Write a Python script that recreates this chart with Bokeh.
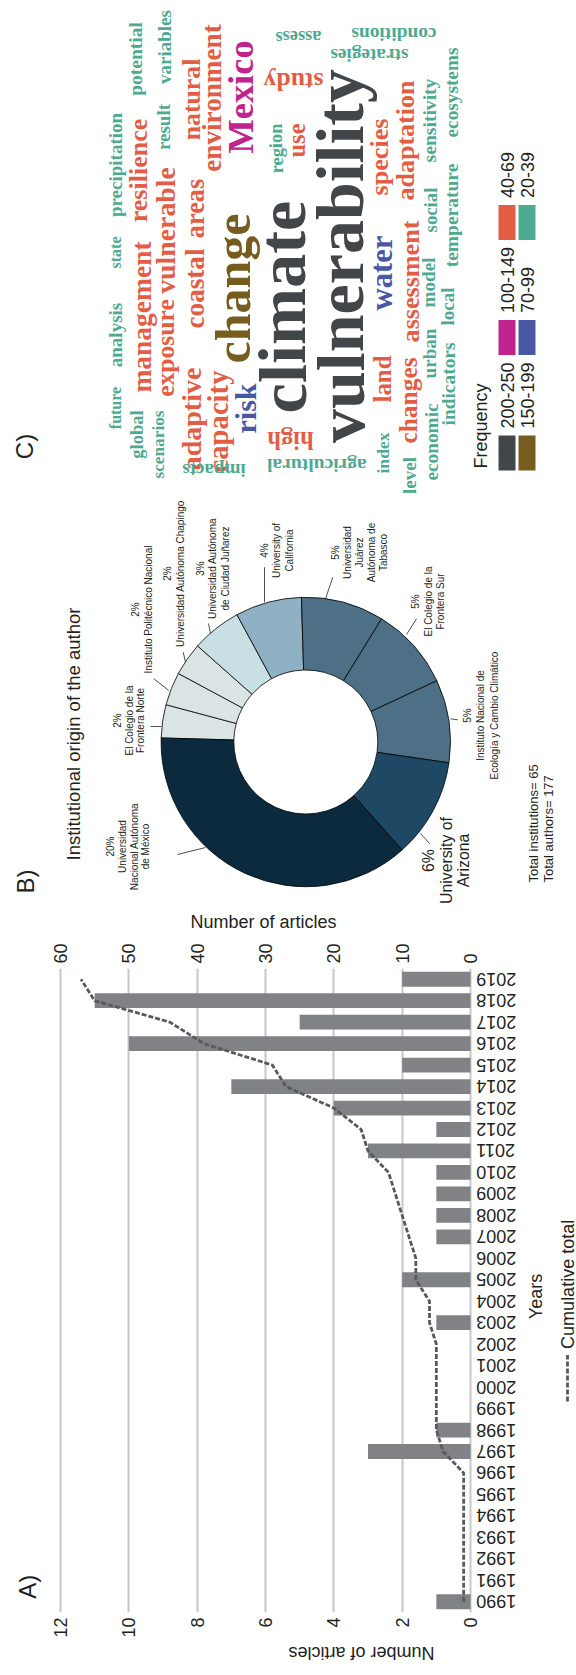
import math
import numpy as np
from bokeh.plotting import figure
from bokeh.models import ColumnDataSource, Range1d, LinearAxis, FixedTicker
from bokeh.layouts import column
from bokeh.core.properties import value
from bokeh.embed import file_html
from bokeh.resources import INLINE

W = 576
TOP_H = 905          # word cloud + donut panel
BAR_H = 770          # bar chart panel
SANS = "Liberation Sans"
SERIF = "Liberation Serif"
INK = "#231f20"
NBSP = "\u00a0"

# ---------------- A) articles per year ----------------
years = list(range(1990, 2020))
articles = [1, 0, 0, 0, 0, 0, 0, 3, 1, 0, 0, 0, 0, 1, 0, 2, 0, 1, 1, 1, 1, 3, 1, 4, 7, 2, 10, 5, 11, 2]
cumulative = np.cumsum(articles).tolist()
count_ticks = [0, 2, 4, 6, 8, 10, 12]
cumulative_ticks = [0, 10, 20, 30, 40, 50, 60]

# ---------------- B) institutional origin ----------------
inst_pct = [2, 2, 2, 3, 4, 5, 5, 5, 6, 20]
inst_names = [
    ["El Colegio de la", "Frontera Norte"],
    ["Instituto Politécnico Nacional"],
    ["Universidad Autónoma Chapingo"],
    ["Universidad Autónoma", "de Ciudad Juñarez"],
    ["University of", "California"],
    ["Universidad", "Juárez", "Autónoma de", "Tabasco"],
    ["El Colegio de la", "Frontera Sur"],
    ["Instituto Nacional de", "Ecología y Cambio Climático"],
    ["University of", "Arizona"],
    ["Universidad", "Nacional Autónoma", "de México"],
]
inst_colors = ["#dbe4e5", "#dbe4e5", "#dbe4e5", "#c8dfe3", "#8fb1c3",
               "#4d7087", "#4d7087", "#4d7087", "#1e4863", "#0b2a3e"]
total_institutions = 65
total_authors = 177

# ---------------- C) word cloud ----------------
freq_bins = ["200-250", "150-199", "100-149", "70-99", "40-69", "20-39"]
bin_colors = ["#424649", "#775c1f", "#c0248c", "#4858a5", "#e35d45", "#4ea991"]
words = ["future", "analysis", "state", "precipitation", "global", "management", "resilience",
         "potential", "scenarios", "exposure", "vulnerable", "result", "variables", "adaptive",
         "coastal", "areas", "natural", "capacity", "change", "environment", "risk", "Mexico",
         "region", "climate", "vulnerability", "species", "adaptation", "sensitivity", "ecosystems",
         "water", "land", "assessment", "changes", "model", "social", "urban", "economic", "local",
         "temperature", "indicators", "index", "level", "use", "impacts", "high", "agricultural",
         "study", "assess", "strategies", "conditions"]
word_bin = [5, 5, 5, 5, 5, 4, 4,
            5, 5, 4, 4, 5, 5, 4,
            4, 4, 4, 4, 1, 4, 3, 2,
            5, 0, 0, 4, 4, 5, 5,
            3, 4, 4, 4, 5, 5, 5, 5, 5,
            5, 5, 5, 5, 4, 5, 4, 5,
            4, 5, 5, 5]

# word cloud layout (page pixels: x, y from top), font size, upside-down words
word_x = [115, 115, 115, 115, 136, 141, 138,
          135, 157.5, 165, 165, 163.3, 164, 191,
          194, 194, 191, 217, 232, 211, 245, 240,
          276, 282, 340, 379, 405, 429, 450.5,
          381, 382, 410, 407, 428, 430, 429, 430.5, 447,
          451, 448, 382, 409, 296, 213.5, 290, 316.5,
          293, 298, 369, 393.5]
word_y = [407.5, 334.5, 252, 164.5, 434, 316.5, 170,
          58.5, 444, 347.5, 230, 126.5, 46.5, 418.5,
          288, 208, 99, 421, 288, 97.5, 408, 96.5,
          148, 306.5, 255.5, 156.5, 140, 120, 92,
          272.5, 378.5, 281, 400, 282, 209.5, 353, 441.5, 306,
          215, 383.5, 452.5, 475, 140, 470, 440, 465,
          81, 37, 55, 34]
word_fs = [16, 19, 16, 19, 18.5, 27.5, 26,
           19.5, 17.3, 25.6, 27.8, 19, 19, 28,
           27.2, 26.4, 25.8, 28.7, 50, 27.2, 30, 36.4,
           18.4, 68.5, 68, 26.2, 26, 19.6, 19.3,
           30.7, 24.9, 26.1, 25.4, 19.2, 18.8, 19.1, 19.3, 19,
           19.5, 19.4, 17.6, 19, 24.5, 19, 24.5, 19.5,
           25.7, 18.4, 19.3, 19.4]
upside_down = {"impacts", "high", "agricultural", "study", "assess", "strategies", "conditions"}


def Y(s):
    """Convert a top-down pixel position into the upper panel's data y."""
    return TOP_H - s


# =============== upper panel: word cloud and donut ===============
top = figure(width=W, height=TOP_H, x_range=Range1d(0, W), y_range=Range1d(0, TOP_H),
             output_backend="svg", toolbar_location=None,
             x_axis_location=None, y_axis_location=None, min_border=0)
top.grid.visible = False
top.outline_line_color = None
top.background_fill_color = "white"
top.border_fill_color = "white"

wc = ColumnDataSource(dict(
    x=word_x, y=[Y(v) for v in word_y], text=words,
    color=[bin_colors[b] for b in word_bin],
    fs=[f"{s}px" for s in word_fs],
    angle=[math.pi if w in upside_down else math.pi / 2 for w in words],
))
top.text(x="x", y="y", text="text", source=wc, angle="angle", text_color="color",
         text_font_size="fs", text_font=value(SERIF), text_font_style="bold",
         text_align="center", text_baseline="middle")

# frequency legend
sw_x = [506.5, 526.5, 506.5, 526.5, 506.5, 526.5]
sw_y = [452.5, 452.5, 337, 337, 222, 222]
top.rect(x=sw_x, y=[Y(v) for v in sw_y], width=17, height=35, fill_color=bin_colors, line_color=None)
top.text(x=sw_x, y=[Y(v - 24.5) for v in sw_y], text=freq_bins, angle=math.pi / 2,
         text_font=value(SANS), text_font_size="18px", text_color=INK,
         text_align="left", text_baseline="middle")
top.text(x=[480.5], y=[Y(468)], text=["Frequency"], angle=math.pi / 2,
         text_font=value(SANS), text_font_size="18px", text_color=INK,
         text_align="left", text_baseline="middle")

# donut of institutional origin
cx, cy = 305.3, Y(741.5)
spans = [p / sum(inst_pct) * 2 * math.pi for p in inst_pct]
hi = math.radians(178.4) - np.concatenate([[0], np.cumsum(spans)[:-1]])
lo = hi - np.array(spans)
top.annular_wedge(x=cx, y=cy, inner_radius=72, outer_radius=144.7,
                  start_angle=lo.tolist(), end_angle=hi.tolist(), direction="anticlock",
                  fill_color=inst_colors, line_color="black", line_width=0.8)

# slice labels: first line x, centre y, line gap, font size
lab_x0 = [117, 135, 167, 199.5, 263.5, 335, 415, 467, 428, 110]
lab_yc = [720, 609, 573, 568, 550, 552, 601, 715, 860, 846]
lab_gap = [11.5, 13, 13, 12.8, 12.5, 12, 12.5, 13.3, 17.5, 11.8]
lab_fs = [10, 10, 10, 10, 10, 10, 10, 10, 15.8, 10]
lx, ly, lt, lf = [], [], [], []
for i, names in enumerate(inst_names):
    lines = [f"{inst_pct[i]}%"] + names
    for j, t in enumerate(lines):
        lx.append(lab_x0[i] + j * lab_gap[i])
        ly.append(Y(lab_yc[i]))
        lt.append(t)
        lf.append(f"{lab_fs[i]}px")
top.text(x=lx, y=ly, text=lt, text_font_size=lf, angle=math.pi / 2,
         text_font=value(SANS), text_color=INK, text_align="center", text_baseline="middle")

lead_x0 = [150, 153.3, 182.7, 208, 264, 332.3, 416, 450, 420, 177]
lead_y0 = [726, 678.3, 651.7, 623, 566.7, 576.7, 618.3, 718.3, 833, 854]
lead_x1 = [161, 168.3, 185, 210, 264, 325, 406, 457.3, 429.3, 205]
lead_y1 = [726, 690, 661.7, 633, 601.7, 598.3, 634, 719.3, 843.3, 847]
top.segment(x0=lead_x0, y0=[Y(v) for v in lead_y0], x1=lead_x1, y1=[Y(v) for v in lead_y1],
            line_color="#222222", line_width=0.8)

top.text(x=[73.3], y=[Y(860)], text=["Institutional origin of the author"], angle=math.pi / 2,
         text_font=value(SANS), text_font_size="18.5px", text_color=INK,
         text_align="left", text_baseline="middle")
top.text(x=[533, 548], y=[Y(882), Y(882)],
         text=[f"Total institutions= {total_institutions}", f"Total authors= {total_authors}"],
         angle=math.pi / 2, text_font=value(SANS), text_font_size="13px", text_color=INK,
         text_align="left", text_baseline="middle")

# panel letters
top.text(x=[23.5, 24.5], y=[Y(446), Y(881)], text=["C)", "B)"], angle=math.pi / 2,
         text_font=value(SANS), text_font_size="24px", text_color=INK,
         text_align="center", text_baseline="middle")

# =============== lower panel: articles per year ===============
# the plotting frame spans the whole width: count 12 sits at x=60 px, count 0 at x=470 px
PX_LEFT, PX_ZERO = 60.0, 470.0
per_count = (PX_ZERO - PX_LEFT) / 12
per_cum = (PX_ZERO - PX_LEFT) / 60
bar = figure(width=W, height=BAR_H,
             x_range=Range1d(12 + PX_LEFT / per_count, -(W - PX_ZERO) / per_count),
             y_range=Range1d(1989.5, 2019.5),
             output_backend="svg", toolbar_location=None,
             x_axis_location="below", y_axis_location=None,
             min_border_left=0, min_border_right=0, min_border_top=63, min_border_bottom=58)
bar.extra_x_ranges = {"cum": Range1d(60 + PX_LEFT / per_cum, -(W - PX_ZERO) / per_cum)}
bar.outline_line_color = None
bar.background_fill_color = "white"
bar.border_fill_color = "white"

bar.xgrid.ticker = FixedTicker(ticks=count_ticks)
bar.xgrid.grid_line_color = "#c6c7c9"
bar.xgrid.grid_line_width = 2
bar.ygrid.visible = False

has_label_orient = "axis_label_orientation" in LinearAxis.properties()


def style_axis(ax, label_orient):
    ax.axis_line_color = None
    ax.major_tick_line_color = None
    ax.minor_tick_line_color = None
    ax.major_tick_out = 0
    ax.major_tick_in = 0
    ax.major_label_standoff = 5
    ax.major_label_orientation = label_orient
    ax.major_label_text_font = SANS
    ax.major_label_text_font_size = "18px"
    ax.major_label_text_color = INK
    ax.axis_label_text_font = SANS
    ax.axis_label_text_font_size = "18px"
    ax.axis_label_text_font_style = "normal"
    ax.axis_label_text_color = INK


# count axis, below; its title reads upside down, padded so it sits left of centre
xax = bar.xaxis[0]
xax.ticker = FixedTicker(ticks=count_ticks)
xax.axis_label = NBSP * 6 + "Number of articles"
style_axis(xax, math.pi / 2)
if has_label_orient:
    xax.axis_label_orientation = math.pi
xax.axis_label_standoff = 12

# cumulative axis, above
cax = LinearAxis(x_range_name="cum", ticker=FixedTicker(ticks=cumulative_ticks),
                 axis_label="Number of articles" + NBSP * 10)
style_axis(cax, math.pi / 2)
cax.axis_label_standoff = 8
bar.add_layout(cax, "above")

bar.hbar(y=years, left=0, right=articles, height=0.69, fill_color="#808285", line_color=None)
bar.line(x=cumulative, y=years, x_range_name="cum", line_color="#58595b",
         line_width=2.8, line_dash="5 2")

# year labels, upside down beside the zero line
year_lab_x = -(475.7 - PX_ZERO) / per_count
bar.text(x=[year_lab_x] * len(years), y=years, text=[str(y) for y in years], angle=math.pi,
         text_font=value(SANS), text_font_size="18px", text_color=INK,
         text_align="right", text_baseline="middle")
bar.text(x=[-(535 - PX_ZERO) / per_count], y=[2004.22], text=["Years"], angle=math.pi / 2,
         text_font=value(SANS), text_font_size="18px", text_color=INK,
         text_align="center", text_baseline="middle")

# legend for the cumulative line
leg_x = -(567 - PX_ZERO) / per_count
bar.line(x=[leg_x, leg_x], y=[1999.33, 2001.5], line_color="#58595b", line_width=2.8, line_dash="5 2")
bar.text(x=[leg_x], y=[2001.78], text=["Cumulative total"], angle=math.pi / 2,
         text_font=value(SANS), text_font_size="18px", text_color=INK,
         text_align="left", text_baseline="middle")

bar.text(x=[12 + (PX_LEFT - 27) / per_count], y=[1990.7], text=["A)"], angle=math.pi / 2,
         text_font=value(SANS), text_font_size="24px", text_color=INK,
         text_align="center", text_baseline="middle")

layout = column(top, bar, spacing=0)
open("out.html", "w").write(file_html(layout, INLINE))
